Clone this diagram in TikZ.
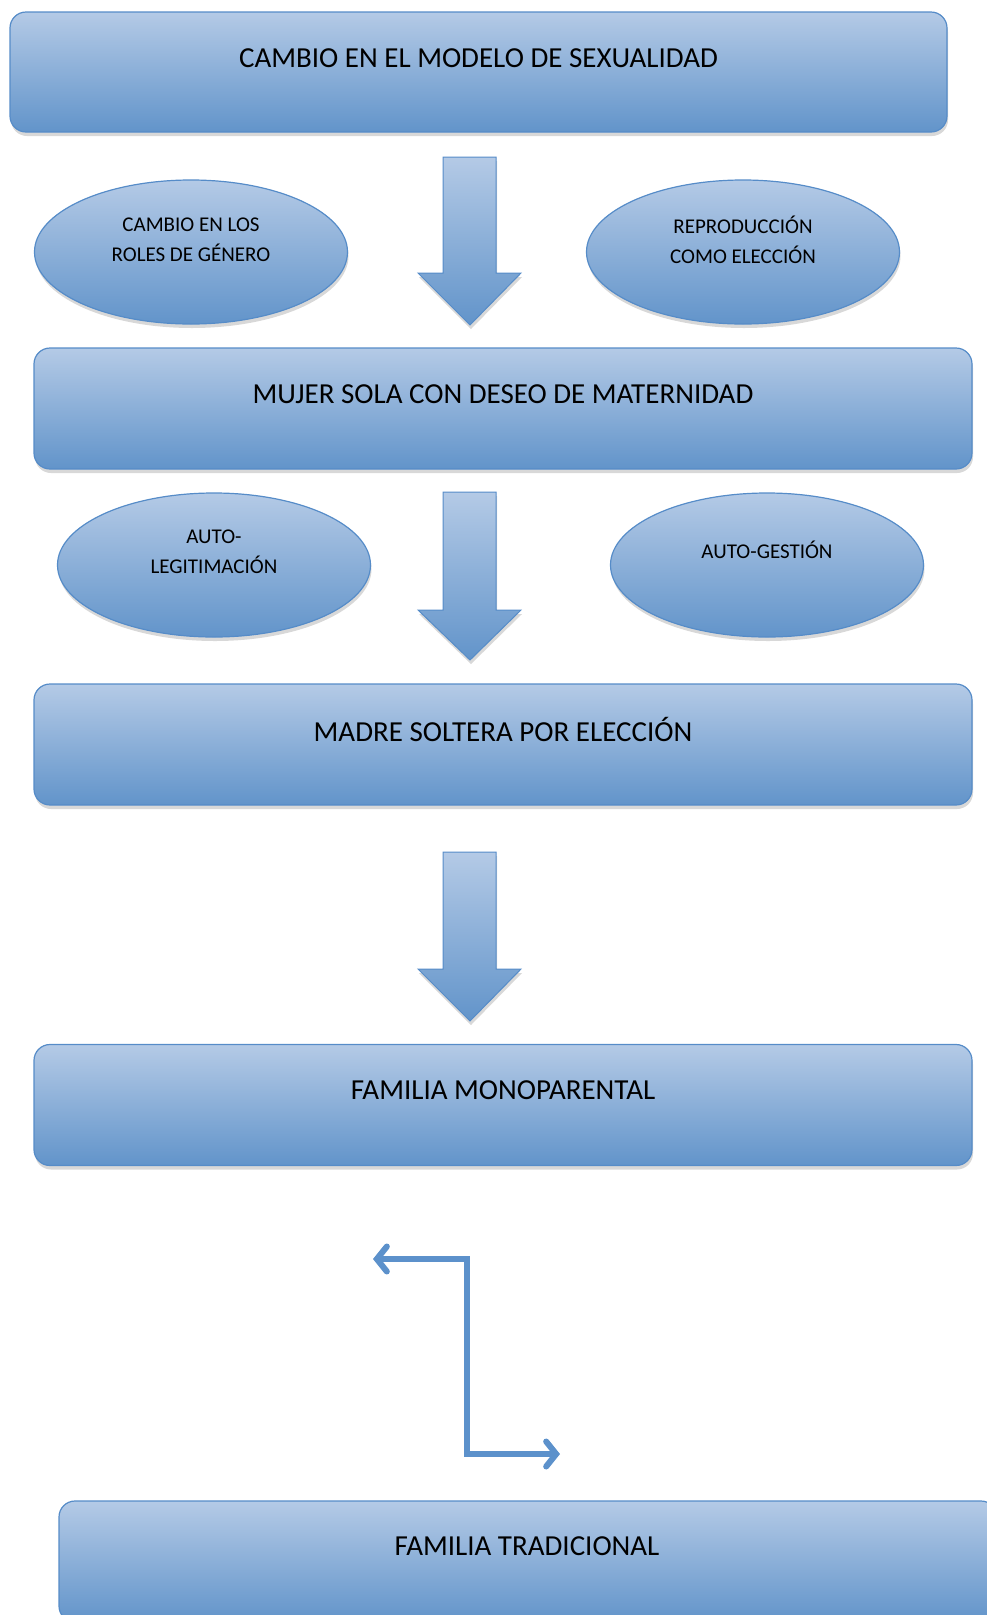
\documentclass[tikz,border=0pt]{standalone}
\usepackage{fontspec}
\setmainfont{Carlito}
\usetikzlibrary{shapes.geometric,shadows,arrows.meta}
\definecolor{topblue}{RGB}{180,202,230}
\definecolor{botblue}{RGB}{98,148,202}
\definecolor{edgeblue}{RGB}{86,140,200}
\definecolor{linkblue}{RGB}{92,145,203}
\tikzset{
  softshadow/.style={drop shadow={opacity=0.22,shadow xshift=1pt,shadow yshift=-4pt,fill=black!70}},
  bigbox/.style={draw=edgeblue,line width=1.2pt,rounded corners=16pt,top color=topblue,bottom color=botblue,softshadow,minimum width=909pt,minimum height=117pt,inner sep=0pt},
  oval/.style={ellipse,draw=edgeblue,line width=1.2pt,top color=topblue,bottom color=botblue,softshadow,minimum width=313pt,minimum height=144pt,inner sep=0pt},
  blockarrow/.style={draw=edgeblue,line width=1pt,top color=topblue,bottom color=botblue,softshadow},
  boxtext/.style={font=\fontsize{29}{34}\selectfont,text=black,inner sep=0pt},
  ovaltext/.style={font=\fontsize{21}{30}\selectfont,text=black,align=center,inner sep=0pt},
  barb/.tip={Straight Barb[length=10pt,width=25pt,line cap=round]},
  link/.style={draw=linkblue,line width=6pt,barb-barb}
}
\begin{document}
\begin{tikzpicture}[x=1pt,y=-1pt]
\useasboundingbox (0,0) rectangle (986,1615);
% boxes
\node[bigbox,minimum width=937pt,minimum height=120pt] (b1) at (478.5,72) {};
\node[boxtext] (t1) at (478.5,58) {CAMBIO EN EL MODELO DE SEXUALIDAD};
\node[bigbox,minimum width=938pt,minimum height=121pt] (b2) at (503,408.5) {};
\node[boxtext] (t2) at (503,394) {MUJER SOLA CON DESEO DE MATERNIDAD};
\node[bigbox,minimum width=938pt,minimum height=121pt] (b3) at (503,744.5) {};
\node[boxtext] (t3) at (503,729) {MADRE SOLTERA POR ELECCIÓN};
\node[bigbox,minimum width=938pt,minimum height=121pt] (b4) at (503,1105) {};
\node[boxtext] (t4) at (503,1090) {FAMILIA MONOPARENTAL};
\node[bigbox,minimum width=938pt,minimum height=121pt] (b5) at (528,1561.5) {};
\node[boxtext] (t5) at (527,1546) {FAMILIA TRADICIONAL};
% ovals
\node[oval] (e1) at (191,252) {};
\node[ovaltext] (et1) at (191,240) {CAMBIO EN LOS\\ROLES DE GÉNERO};
\node[oval] (e2) at (743,252) {};
\node[ovaltext] (et2) at (743,240) {REPRODUCCIÓN\\COMO ELECCIÓN};
\node[oval] (e3) at (214,565) {};
\node[ovaltext] (et3) at (214,552) {AUTO-\\LEGITIMACIÓN};
\node[oval] (e4) at (767,565) {};
\node[ovaltext] (et4) at (767,550) {AUTO-GESTIÓN};
% block arrows
\foreach \top/\head/\tip in {157/273/325, 492/610/660, 852/969/1021}{
  \path[blockarrow] (443,\top) -- (496,\top) -- (496,\head) -- (521,\head) -- (470,\tip) -- (418,\head) -- (443,\head) -- cycle;
}
% bent arrow
\coordinate (la) at (373,1259);
\coordinate (ca) at (467,1259);
\coordinate (cb) at (467,1454);
\coordinate (ra) at (560,1454);
\draw[link] (la) -- (ca) -- (cb) -- (ra);
\end{tikzpicture}
\end{document}
